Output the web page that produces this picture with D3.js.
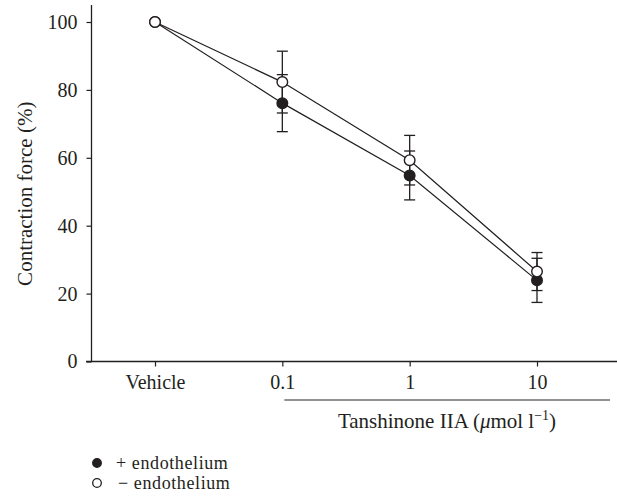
<!DOCTYPE html>
<html>
<head>
<meta charset="utf-8">
<script src="https://cdn.jsdelivr.net/npm/d3@7"></script>
<style>
  body { margin: 0; background: #fff; }
</style>
</head>
<body>
<div class="chart"></div>
<script>
// chart values
const doses = ['Vehicle', '0.1', '1', '10'];
const withEndo = [100, 76.1, 54.8, 23.9];
const withEndoErr = [0, 8.4, 7.2, 6.5];
const withoutEndo = [100, 82.3, 59.3, 26.5];
const withoutEndoErr = [0, 9.1, 7.3, 5.6];
const yTicks = [0, 20, 40, 60, 80, 100];

const config = {
  width: 617,
  height: 500,
  ink: '#231f20',
  font: '"Liberation Serif", "DejaVu Serif", serif'
};

const series = [{
  label: '+ endothelium',
  values: withEndo,
  errors: withEndoErr,
  fill: config.ink
}, {
  label: '\u2212 endothelium',
  values: withoutEndo,
  errors: withoutEndoErr,
  fill: '#fff'
}];

const svg = d3.select('.chart')
  .append('svg')
  .attr('width', config.width)
  .attr('height', config.height)
  .attr('font-family', config.font)
  .attr('fill', config.ink);

const x = d3.scalePoint()
  .domain(doses)
  .range([155, 537]);

const y = d3.scaleLinear()
  .domain([0, 100])
  .range([361.5, 22]);

// axes
const xAxis = svg.append('g')
  .attr('transform', `translate(0, ${y(0)})`)
  .call(d3.axisBottom(x).tickSize(5).tickSizeOuter(0).tickPadding(8));
xAxis.select('.domain').remove();

const yAxis = svg.append('g')
  .attr('transform', 'translate(91.5, 0)')
  .call(d3.axisLeft(y).tickValues(yTicks).tickSize(5).tickSizeOuter(0).tickPadding(9));
yAxis.select('.domain').remove();

[xAxis, yAxis].forEach($a => {
  $a.attr('font-family', config.font).attr('font-size', 20);
  $a.selectAll('line').attr('stroke', config.ink).attr('stroke-width', 1.2);
  $a.selectAll('text').attr('fill', config.ink);
});

svg.append('line')
  .attr('x1', 86).attr('x2', config.width)
  .attr('y1', y(0)).attr('y2', y(0))
  .attr('stroke', config.ink)
  .attr('stroke-width', 1.3);

svg.append('line')
  .attr('x1', 91.5).attr('x2', 91.5)
  .attr('y1', 5).attr('y2', y(0))
  .attr('stroke', config.ink)
  .attr('stroke-width', 1.3);

// y label
svg.append('text')
  .attr('transform', `translate(32, ${y(50) + 2}) rotate(-90)`)
  .attr('text-anchor', 'middle')
  .attr('font-size', 21)
  .text('Contraction force (%)');

// bracket under the concentrations
svg.append('line')
  .attr('x1', x('0.1') + 2).attr('x2', 610)
  .attr('y1', 400).attr('y2', 400)
  .attr('stroke', '#6d6e71')
  .attr('stroke-width', 1.6);

const xTitle = svg.append('text')
  .attr('x', 447)
  .attr('y', 428)
  .attr('text-anchor', 'middle')
  .attr('font-size', 21);
xTitle.append('tspan').text('Tanshinone IIA (');
xTitle.append('tspan').attr('font-style', 'italic').text('\u03bc');
xTitle.append('tspan').text('mol l');
xTitle.append('tspan').attr('font-size', 14).attr('dy', -8).text('\u22121');
xTitle.append('tspan').attr('dy', 8).text(')');

// lines, error bars, markers
const line = d3.line()
  .x((d, i) => x(doses[i]))
  .y(d => y(d));

series.forEach(s => {
  svg.append('path')
    .datum(s.values)
    .attr('d', line)
    .attr('fill', 'none')
    .attr('stroke', config.ink)
    .attr('stroke-width', 1.2);
});

series.forEach(s => {
  const $err = svg.append('g');
  s.values.forEach((v, i) => {
    const e = s.errors[i];
    if (!e) return;
    const cx = x(doses[i]);
    $err.append('line')
      .attr('x1', cx).attr('x2', cx)
      .attr('y1', y(v + e)).attr('y2', y(v - e))
      .attr('stroke', config.ink).attr('stroke-width', 1.3);
    [v + e, v - e].forEach(c => {
      $err.append('line')
        .attr('x1', cx - 5.5).attr('x2', cx + 5.5)
        .attr('y1', y(c)).attr('y2', y(c))
        .attr('stroke', config.ink).attr('stroke-width', 1.3);
    });
  });
});

series.forEach(s => {
  svg.append('g')
    .selectAll('circle')
    .data(s.values)
    .enter()
    .append('circle')
    .attr('cx', (d, i) => x(doses[i]))
    .attr('cy', d => y(d))
    .attr('r', 5.3)
    .attr('fill', s.fill)
    .attr('stroke', config.ink)
    .attr('stroke-width', 1.4);
});

// legend
const $legend = svg.append('g')
  .selectAll('g')
  .data(series)
  .enter()
  .append('g')
  .attr('transform', (d, i) => `translate(97, ${463 + i * 20})`);

$legend.append('circle')
  .attr('r', 4.3)
  .attr('fill', d => d.fill)
  .attr('stroke', config.ink)
  .attr('stroke-width', 1.3);

$legend.append('text')
  .attr('x', (d, i) => i ? 21 : 19)
  .attr('y', 5.5)
  .attr('font-size', 18)
  .attr('letter-spacing', 0.6)
  .text(d => d.label);
</script>
</body>
</html>
